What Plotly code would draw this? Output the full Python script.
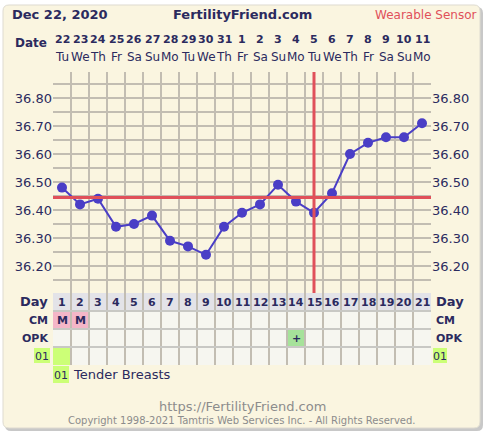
import plotly.graph_objects as go

# ---------------- data ----------------
days = list(range(1, 22))
dates = ["22", "23", "24", "25", "26", "27", "28", "29", "30", "31", "1",
         "2", "3", "4", "5", "6", "7", "8", "9", "10", "11"]
weekdays = ["Tu", "We", "Th", "Fr", "Sa", "Su", "Mo", "Tu", "We", "Th", "Fr",
            "Sa", "Su", "Mo", "Tu", "We", "Th", "Fr", "Sa", "Su", "Mo"]
temps = [36.48, 36.42, 36.44, 36.34, 36.35, 36.38, 36.29, 36.27, 36.24, 36.34,
         36.39, 36.42, 36.49, 36.43, 36.39, 36.46, 36.60, 36.64, 36.66, 36.66, 36.71]
coverline = 36.445
ovulation_day = 15
cm = ["M", "M"] + [""] * 19
opk = [""] * 13 + ["+"] + [""] * 7
symptom01 = [1] + [0] * 20
ytick_labels = [36.20, 36.30, 36.40, 36.50, 36.60, 36.70, 36.80]
grid_vals = [round(36.15 + 0.05 * i, 2) for i in range(15)]

# ---------------- styling ----------------
W, H = 484, 432
NAVY = "#2b2a5e"
CREAM = "#faf5e0"
GRID = "#c2bdb2"
RED = "#e0505a"
LINE = "#4a3ec6"
FONT = "DejaVu Sans"


def px(x):
    return x / W


def py(y):
    return 1 - y / H


Y_TOP, Y_BOT = 72, 293
ymax = 36.80 + (98 - Y_TOP) / 280
ymin = 36.80 - (Y_BOT - 98) / 280

fig = go.Figure()

fig.add_trace(go.Scatter(
    x=days, y=temps, mode="lines+markers",
    line=dict(color=LINE, width=2),
    marker=dict(color=LINE, size=10),
    hoverinfo="skip", showlegend=False, xaxis="x", yaxis="y"))
# invisible trace for right axis
fig.add_trace(go.Scatter(x=[days[0]], y=[temps[0]], mode="markers",
                         marker=dict(opacity=0), showlegend=False,
                         hoverinfo="skip", xaxis="x", yaxis="y2"))
# invisible trace for table subplot
fig.add_trace(go.Scatter(x=[days[0]], y=[0.5], mode="markers",
                         marker=dict(opacity=0), showlegend=False,
                         hoverinfo="skip", xaxis="x", yaxis="y3"))

ytext = [f"{v:.2f}" if any(abs(v - t) < 1e-6 for t in ytick_labels) else "" for v in grid_vals]

fig.update_layout(
    width=W, height=H, autosize=False,
    margin=dict(l=0, r=0, t=0, b=0),
    paper_bgcolor="white", plot_bgcolor=CREAM,
    font=dict(family=FONT, color=NAVY),
    xaxis=dict(domain=[px(53), px(431)], range=[0.5, 21.5],
               tickvals=[d + 0.5 for d in [0] + days], showticklabels=False,
               showgrid=True, gridcolor=GRID, gridwidth=2, zeroline=False,
               showline=False, ticks="", fixedrange=True),
    yaxis=dict(domain=[py(Y_BOT), py(Y_TOP)], range=[ymin, ymax],
               tickvals=grid_vals, ticktext=ytext, showgrid=True,
               gridcolor=GRID, gridwidth=2, zeroline=False, ticks="",
               tickfont=dict(size=13, color=NAVY, family=FONT)),
    yaxis2=dict(overlaying="y", side="right", range=[ymin, ymax],
                tickvals=grid_vals, ticktext=ytext, showgrid=False,
                zeroline=False, ticks="", anchor="x",
                tickfont=dict(size=13, color=NAVY, family=FONT)),
    yaxis3=dict(domain=[py(365), py(Y_BOT)], range=[4, 0],
                tickvals=[0, 1, 2, 3, 4], showticklabels=False,
                showgrid=True, gridcolor="#c8c8c4", gridwidth=2,
                zeroline=False, ticks="", anchor="x"),
)

shapes = []


def rpath(x0, y0, x1, y1, r):
    pts = [("M", x0 + r, y0), ("L", x1 - r, y0), ("Q", x1, y0, x1, y0 + r),
           ("L", x1, y1 - r), ("Q", x1, y1, x1 - r, y1), ("L", x0 + r, y1),
           ("Q", x0, y1, x0, y1 - r), ("L", x0, y0 + r), ("Q", x0, y0, x0 + r, y0)]
    out = []
    for p in pts:
        cmd, coords = p[0], p[1:]
        pairs = [f"{px(coords[k]):.5f},{py(coords[k + 1]):.5f}" for k in range(0, len(coords), 2)]
        out.append(cmd + " " + " ".join(pairs))
    return " ".join(out) + " Z"


shapes.append(dict(type="path", xref="paper", yref="paper",
                   path=rpath(5, 7, 483, 431, 6), fillcolor="#9a9a9a",
                   line=dict(width=0), layer="below", opacity=0.55))
shapes.append(dict(type="path", xref="paper", yref="paper",
                   path=rpath(3, 5, 480, 428, 6), fillcolor=CREAM,
                   line=dict(width=1, color="#dedbd0"), layer="below"))

# table cells
for i, d in enumerate(days):
    rows = [
        "#e3e3e8",
        "#f4b6c8" if cm[i] else "#f6f6f0",
        "#a6e29a" if opk[i] else "#f6f6f0",
        "#ccff77" if symptom01[i] else "#f6f6f0",
    ]
    for r, col in enumerate(rows):
        shapes.append(dict(type="rect", xref="x", yref="y3",
                           x0=d - 0.5, x1=d + 0.5, y0=r, y1=r + 1,
                           fillcolor=col, line=dict(width=0), layer="below"))

# coverline & ovulation line
shapes.append(dict(type="line", xref="x", yref="y", x0=0.5, x1=21.5,
                   y0=coverline, y1=coverline, line=dict(color=RED, width=3)))
shapes.append(dict(type="line", xref="x", yref="y", x0=ovulation_day,
                   x1=ovulation_day, y0=ymin, y1=ymax,
                   line=dict(color=RED, width=3)))

# legend green boxes
for (x0, x1, y0, y1) in [(34, 50, 348, 363), (433, 447, 348, 363), (53, 69, 366, 383)]:
    shapes.append(dict(type="rect", xref="paper", yref="paper",
                       x0=px(x0), x1=px(x1), y0=py(y1), y1=py(y0),
                       fillcolor="#ccff77", line=dict(width=0)))

fig.update_layout(shapes=shapes)

ann = []


def text(x, y, s, size=13, color=NAVY, anchor="center", bold=False, xref="paper"):
    ann.append(dict(x=x if xref != "paper" else px(x), y=py(y), xref=xref,
                    yref="paper", text=f"<b>{s}</b>" if bold else s,
                    showarrow=False, xanchor=anchor, yanchor="middle",
                    font=dict(size=size, color=color, family=FONT)))


text(10, 15, "Dec 22, 2020", size=13, anchor="left", bold=True)
text(242, 15, "FertilityFriend.com", size=13, bold=True)
text(479, 15, "Wearable Sensor", size=12, color=RED, anchor="right")
text(49, 43, "Date", size=12, anchor="right", bold=True)
for i, d in enumerate(days):
    text(d, 39, dates[i], size=11, bold=True, xref="x")
    text(d, 57, weekdays[i], size=12, xref="x")
    text(d, 302, str(d), size=11, bold=True, xref="x")
    if cm[i]:
        text(d, 320, cm[i], size=11, bold=True, xref="x")
    if opk[i]:
        text(d, 338, opk[i], size=11, bold=True, xref="x")

for lab, y in [("Day", 301), ("CM", 320), ("OPK", 338)]:
    text(50, y, lab, size=13 if lab == "Day" else 11, anchor="right", bold=True)
    text(434, y, lab, size=13 if lab == "Day" else 11, anchor="left", bold=True)
text(42, 356, "01", size=11)
text(440, 356, "01", size=11)
text(61, 375, "01", size=11)
text(71, 374, "Tender Breasts", size=13, anchor="left")
text(242, 406, "https://FertilityFriend.com", size=13, color="#8c8c8c")
text(242, 420, "Copyright 1998-2021 Tamtris Web Services Inc. - All Rights Reserved.",
     size=10, color="#8c8c8c")

fig.update_layout(annotations=ann)

fig.write_html("out.html", config={"displayModeBar": False, "staticPlot": True},
               post_script="document.body.style.margin='0px';document.body.style.overflow='hidden';")
